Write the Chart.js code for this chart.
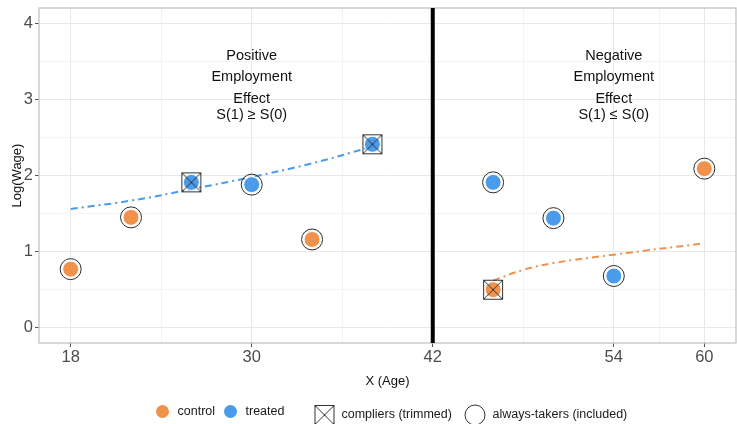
<!DOCTYPE html>
<html>
<head>
<meta charset="utf-8">
<script src="https://cdn.jsdelivr.net/npm/chart.js@4.4.1/dist/chart.umd.min.js"></script>
<style>
  html, body { margin: 0; padding: 0; background: #fff; }
  #wrap { width: 737px; height: 424px; }
</style>
</head>
<body>
<div id="wrap"><canvas id="grafico" width="737" height="424"></canvas></div>
<script>
// observations
const ages   = [18, 22, 26, 30, 34, 38, 46, 46, 50, 54, 60];
const wages  = [0.77, 1.45, 1.91, 1.88, 1.16, 2.41, 1.91, 0.50, 1.44, 0.68, 2.09];
const groups = ['control', 'control', 'treated', 'treated', 'control', 'treated', 'treated', 'control', 'treated', 'treated', 'control'];
const types  = ['always', 'always', 'complier', 'always', 'always', 'complier', 'always', 'complier', 'always', 'always', 'always'];

// fitted curves
const treatedFitX = [18, 22, 26, 30, 34, 38];
const treatedFitY = [1.56, 1.67, 1.82, 1.98, 2.16, 2.38];
const controlFitX = [46, 48, 50, 54, 60];
const controlFitY = [0.62, 0.76, 0.85, 0.96, 1.11];

const cutoff = 42;
const xMajor = [18, 30, 42, 54, 60];
const xMinor = [24, 36, 48, 57];
const yMajor = [0, 1, 2, 3, 4];
const yMinor = [0.5, 1.5, 2.5, 3.5];

const noteX = [30, 54];
const noteY = [3.57, 3.29, 3.01, 2.80];
const noteText = [
    ['Positive', 'Employment', 'Effect', 'S(1) \u2265 S(0)'],
    ['Negative', 'Employment', 'Effect', 'S(1) \u2264 S(0)']
];

const ORANGE = '#F0924B';
const BLUE = '#4A9BEA';
const FONT = '"Liberation Sans", Arial, sans-serif';

function pick(test) {
    return ages.map((a, i) => ({ x: a, y: wages[i], i: i })).filter(p => test(p.i));
}
function curve(xs, ys) {
    return xs.map((x, i) => ({ x: x, y: ys[i] }));
}

// box with a cross for compliers
const boxMark = document.createElement('canvas');
boxMark.width = 22; boxMark.height = 22;
(function () {
    const b = boxMark.getContext('2d');
    b.strokeStyle = '#333';
    b.lineWidth = 1;
    b.strokeRect(1.5, 1.5, 19, 19);
    b.beginPath();
    b.moveTo(1.5, 1.5); b.lineTo(20.5, 20.5);
    b.moveTo(20.5, 1.5); b.lineTo(1.5, 20.5);
    b.stroke();
})();

const panelPlugin = {
    id: 'panel',
    beforeDatasetsDraw(chart) {
        const { ctx, chartArea: a, scales } = chart;
        ctx.save();
        ctx.strokeStyle = '#c4c4c4';
        ctx.lineWidth = 1.3;
        ctx.strokeRect(a.left, a.top, a.right - a.left, a.bottom - a.top);
        const xp = scales.x.getPixelForValue(cutoff);
        ctx.strokeStyle = '#000';
        ctx.lineWidth = 4;
        ctx.beginPath();
        ctx.moveTo(xp, a.top);
        ctx.lineTo(xp, a.bottom);
        ctx.stroke();
        // notes
        ctx.fillStyle = '#111';
        ctx.font = '14.5px ' + FONT;
        ctx.textAlign = 'center';
        ctx.textBaseline = 'middle';
        noteX.forEach((nx, k) => {
            noteText[k].forEach((t, j) => {
                ctx.fillText(t, scales.x.getPixelForValue(nx), scales.y.getPixelForValue(noteY[j]));
            });
        });
        ctx.restore();
    },
    afterDraw(chart) {
        const ctx = chart.ctx;
        const cx = chart.width / 2;
        ctx.save();
        ctx.font = '12.5px ' + FONT;
        ctx.textBaseline = 'middle';
        // fill legend
        const y1 = 411.5;
        ctx.fillStyle = ORANGE;
        ctx.beginPath(); ctx.arc(cx - 206, y1, 6.5, 0, Math.PI * 2); ctx.fill();
        ctx.fillStyle = BLUE;
        ctx.beginPath(); ctx.arc(cx - 138, y1, 6.5, 0, Math.PI * 2); ctx.fill();
        ctx.fillStyle = '#1a1a1a';
        ctx.fillText('control', cx - 191, y1);
        ctx.fillText('treated', cx - 123, y1);
        // shape legend
        const y2 = 415;
        ctx.drawImage(boxMark, cx - 55, y2 - 11);
        ctx.fillText('compliers (trimmed)', cx - 27, y2);
        ctx.strokeStyle = '#333';
        ctx.lineWidth = 1;
        ctx.beginPath(); ctx.arc(cx + 106.5, y2, 10, 0, Math.PI * 2); ctx.stroke();
        ctx.fillText('always-takers (included)', cx + 124, y2);
        ctx.restore();
    }
};

const ctx = document.getElementById('grafico').getContext('2d');
new Chart(ctx, {
    type: 'scatter',
    data: {
        datasets: [
            {
                label: 'compliers (trimmed)',
                data: pick(i => types[i] === 'complier'),
                pointStyle: boxMark,
                pointRadius: 10,
                order: 1
            },
            {
                label: 'always-takers (included)',
                data: pick(i => types[i] === 'always'),
                pointRadius: 10.5,
                backgroundColor: 'rgba(0,0,0,0)',
                borderColor: '#2b2b2b',
                borderWidth: 1,
                order: 1
            },
            {
                label: 'control',
                data: pick(i => groups[i] === 'control'),
                pointRadius: 8,
                backgroundColor: ORANGE,
                borderColor: '#fff',
                borderWidth: 1,
                order: 3
            },
            {
                label: 'treated',
                data: pick(i => groups[i] === 'treated'),
                pointRadius: 8,
                backgroundColor: BLUE,
                borderColor: '#fff',
                borderWidth: 1,
                order: 3
            },
            {
                type: 'line',
                label: 'treated fit',
                data: curve(treatedFitX, treatedFitY),
                borderColor: BLUE,
                borderWidth: 2,
                borderDash: [7, 4, 2, 4],
                pointRadius: 0,
                tension: 0.4,
                fill: false,
                order: 5
            },
            {
                type: 'line',
                label: 'control fit',
                data: curve(controlFitX, controlFitY),
                borderColor: ORANGE,
                borderWidth: 2,
                borderDash: [7, 4, 2, 4],
                pointRadius: 0,
                tension: 0.4,
                fill: false,
                order: 5
            }
        ]
    },
    options: {
        responsive: false,
        animation: false,
        events: [],
        layout: { autoPadding: false, padding: { top: 8, right: 1, bottom: 31, left: 0 } },
        plugins: {
            legend: { display: false },
            tooltip: { enabled: false }
        },
        scales: {
            x: {
                type: 'linear',
                min: 15.9,
                max: 62.1,
                afterBuildTicks: s => { s.ticks = xMajor.concat(xMinor).sort((a, b) => a - b).map(v => ({ value: v })); },
                afterFit: s => { s.height = 50; s.paddingLeft = 0; s.paddingRight = 0; },
                border: { display: false },
                grid: {
                    color: c => xMajor.includes(c.tick.value) ? '#e8e8e8' : '#f3f3f3',
                    tickColor: c => xMajor.includes(c.tick.value) ? '#555' : 'rgba(0,0,0,0)',
                    tickLength: 4
                },
                ticks: {
                    autoSkip: false,
                    maxRotation: 0,
                    padding: 1,
                    color: '#4d4d4d',
                    font: { family: FONT, size: 16.5 },
                    callback: v => xMajor.includes(v) ? String(v) : ''
                },
                title: {
                    display: true,
                    text: 'X (Age)',
                    color: '#111',
                    font: { family: FONT, size: 13 },
                    padding: { top: 0, bottom: 4 }
                }
            },
            y: {
                type: 'linear',
                min: -0.2,
                max: 4.2,
                afterBuildTicks: s => { s.ticks = yMajor.concat(yMinor).sort((a, b) => a - b).map(v => ({ value: v })); },
                afterFit: s => { s.width = 39; s.paddingTop = 0; s.paddingBottom = 0; },
                border: { display: false },
                grid: {
                    color: c => yMajor.includes(c.tick.value) ? '#e8e8e8' : '#f3f3f3',
                    tickColor: c => yMajor.includes(c.tick.value) ? '#555' : 'rgba(0,0,0,0)',
                    tickLength: 4
                },
                ticks: {
                    autoSkip: false,
                    padding: 2,
                    color: '#4d4d4d',
                    font: { family: FONT, size: 16.5 },
                    callback: v => yMajor.includes(v) ? String(v) : ''
                },
                title: {
                    display: true,
                    text: 'Log(Wage)',
                    color: '#111',
                    font: { family: FONT, size: 13 },
                    padding: { top: 10, bottom: 0 }
                }
            }
        }
    },
    plugins: [panelPlugin]
});
</script>
</body>
</html>
